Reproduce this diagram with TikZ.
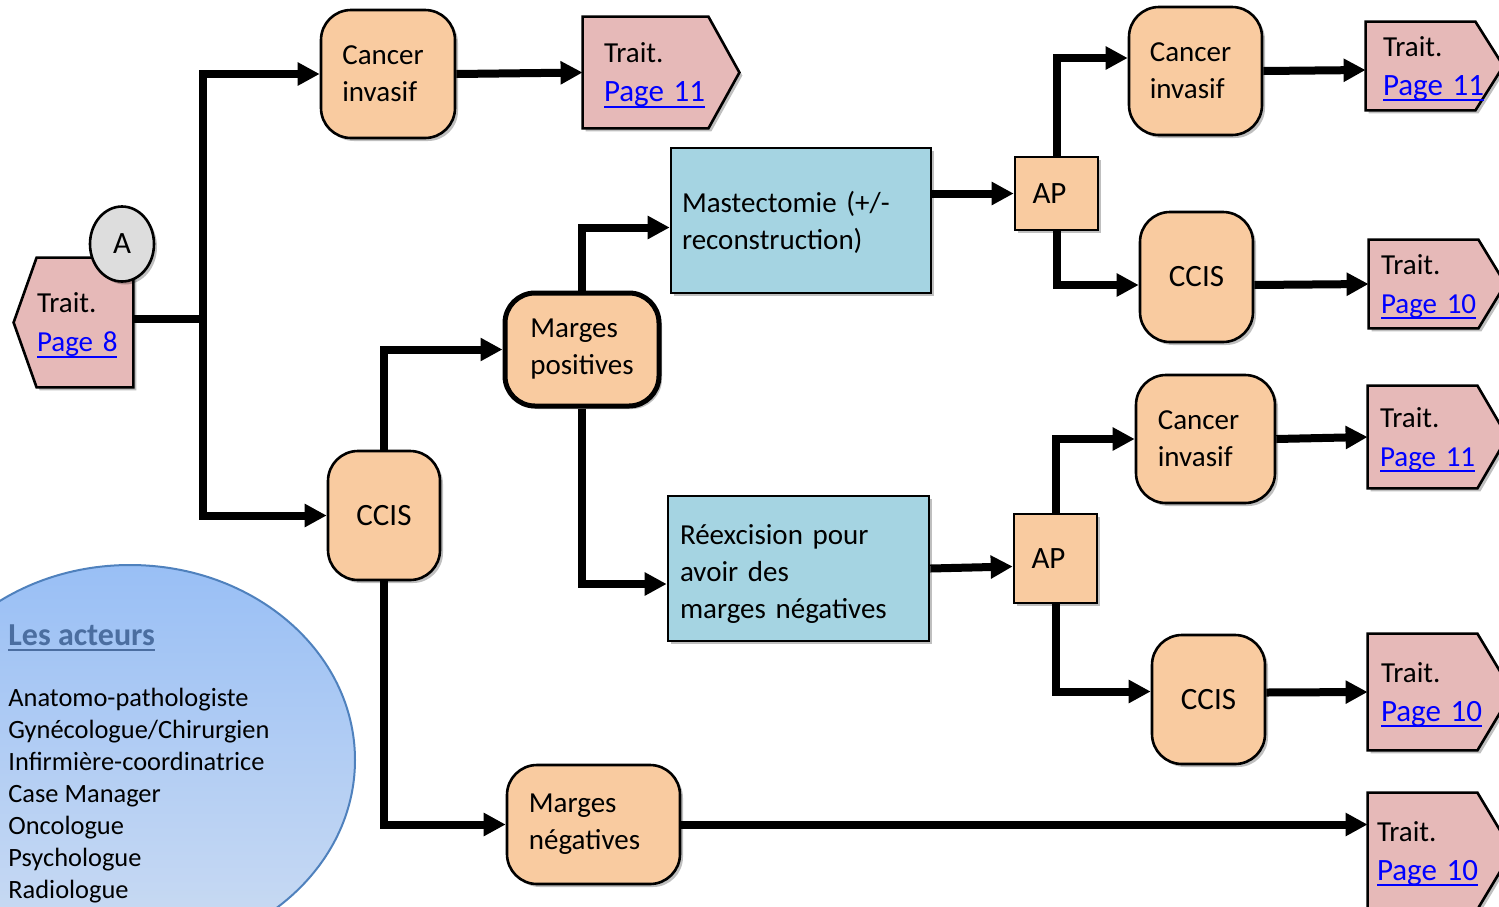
\documentclass[tikz,border=0pt]{standalone}
\usepackage{fontspec}
\setmainfont{Carlito}
\usetikzlibrary{arrows.meta,shapes.geometric,shadows,calc}
\pgfdeclarelayer{background}
\pgfsetlayers{background,main}

\definecolor{peach}{HTML}{F9CBA0}
\definecolor{rosebox}{HTML}{E6B9B8}
\definecolor{cyanbox}{HTML}{A5D4E2}
\definecolor{linkblue}{HTML}{0000FF}
\definecolor{legendedge}{HTML}{4F81BD}
\definecolor{legendtitle}{HTML}{4B6EA0}
\definecolor{legendtop}{HTML}{99BFF5}
\definecolor{legendbottom}{HTML}{CCDCF2}
\definecolor{circlegray}{HTML}{DDDDDD}

% underline drawn just below the baseline, through the descenders
\newsavebox\ulbox
\newcommand\ulinetext[1]{\leavevmode\sbox\ulbox{#1}\rlap{\rule[-3pt]{\wd\ulbox}{1pt}}\usebox\ulbox}
\newcommand\pagelink[1]{\smash{\textcolor{linkblue}{\ulinetext{#1}}}}
\newcommand\mainsize{\fontsize{14.5}{18.5}\selectfont}
\newcommand\bigsize{\fontsize{15.5}{18.5}\selectfont}
\newcommand\linksize{\fontsize{15.5}{19.5}\selectfont}
\newcommand\smalllink{\fontsize{14.5}{19.5}\selectfont}

\tikzset{
  softshadow/.style={drop shadow={shadow xshift=1.5pt, shadow yshift=-1.5pt, fill=black, opacity=0.25}},
  rbox/.style={draw=black, line width=1.3pt, fill=peach, rounded corners=15pt,
    inner sep=0pt, align=left, font=\mainsize, softshadow},
  sqbox/.style={draw=black, line width=1.3pt, fill=peach, inner sep=0pt,
    font=\bigsize, softshadow},
  cbox/.style={draw=black, line width=1.3pt, fill=cyanbox, inner sep=0pt,
    align=left, font=\mainsize, softshadow},
  trait/.style={inner sep=0pt, align=left, font=\fontsize{14.5}{19.5}\selectfont},
  traitshape/.style={draw=black, line width=1.3pt, fill=rosebox, line join=miter, softshadow},
  conn/.style={line width=4pt, -{Triangle[length=11pt,width=11pt]}},
}

\begin{document}
\begin{tikzpicture}[x=0.5pt,y=-0.5pt]
\useasboundingbox (0,0) rectangle (1499,906);
\clip (0,0) rectangle (1499,906);

% legend: the people involved
\draw[draw=legendedge, line width=1pt, top color=legendtop, bottom color=legendbottom]
  (130,760) ellipse [x radius=112.5pt, y radius=97.5pt];
\node[anchor=base west, inner sep=0pt, text=legendtitle,
      font=\bfseries\fontsize{16}{19}\selectfont] (legtitle) at (8,645) {\ulinetext{Les acteurs}};
\node[anchor=north west, inner sep=0pt, align=left, font=\fontsize{13.2}{16}\selectfont]
  (leglist) at (8,688) {Anatomo-pathologiste\\Gynécologue/Chirurgien\\Infirmière-coordinatrice\\Case Manager\\Oncologue\\Psychologue\\Radiologue};

% treatment references (outlines drawn on the background layer)
\node[trait, minimum width=59.5pt, minimum height=64.5pt, text width=36.5pt] (trA) at (73.5,322.5)
  {Trait.\\\mbox{\smalllink\pagelink{Page 8}}};
\node[trait, minimum width=78pt, minimum height=55.5pt, text width=57pt] (tr1) at (661,72.5)
  {Trait.\\{\linksize\pagelink{Page 11}}};
\node[trait, minimum width=68.5pt, minimum height=44pt, text width=51.5pt] (tr2) at (1434.5,66)
  {Trait.\\{\linksize\pagelink{Page 11}}};
\node[trait, minimum width=68pt, minimum height=44pt, text width=56pt] (tr3) at (1437,284)
  {Trait.\\{\smalllink\pagelink{Page 10}}};
\node[trait, minimum width=69.5pt, minimum height=51pt, text width=57.5pt] (tr4) at (1437.5,437)
  {Trait.\\{\smalllink\pagelink{Page 11}}};
\node[trait, minimum width=72pt, minimum height=58pt, text width=59pt] (tr5) at (1440,692)
  {Trait.\\{\linksize\pagelink{Page 10}}};
\node[trait, minimum width=72pt, minimum height=58pt, text width=63pt] (tr6) at (1440,851)
  {Trait.\\{\linksize\pagelink{Page 10}}};

\node[ellipse, draw=black, line width=1.3pt, fill=circlegray, minimum width=32pt,
      minimum height=37.5pt, inner sep=0pt, font=\bigsize, softshadow] (circA) at (122,244) {A};

% decision boxes
\node[rbox, minimum width=67pt, minimum height=64pt] (cancer1) at (388,74) {Cancer\hspace*{5pt}\\invasif};
\node[rbox, minimum width=56pt, minimum height=64.5pt, font=\bigsize] (ccis1) at (384,515.5) {CCIS};
\node[rbox, minimum width=77pt, minimum height=56.5pt, line width=2.5pt] (mpos) at (582,349.5) {Marges\\positives};
\node[rbox, minimum width=86.5pt, minimum height=59.5pt] (mneg) at (593.5,824.5) {Marges\\négatives\hspace*{9pt}};
\node[cbox, minimum width=130pt, minimum height=72.5pt, text width=119pt] (mast) at (801,220.5)
  {\rule{0pt}{13pt}Mastectomie (+/-\\reconstruction)};
\node[cbox, minimum width=130.5pt, minimum height=72.5pt, text width=118.5pt] (reex) at (798.5,568.5)
  {\rule{0pt}{15pt}Réexcision pour\\avoir des\\marges négatives};
\node[sqbox, minimum width=41.5pt, minimum height=36.5pt] (ap1) at (1056.5,193.5) {AP\hspace*{7pt}};
\node[sqbox, minimum width=41.5pt, minimum height=44.5pt] (ap2) at (1055.5,558.5) {AP\hspace*{7pt}};
\node[rbox, minimum width=66.5pt, minimum height=64pt] (cancer2) at (1195.5,71) {Cancer\hspace*{5pt}\\invasif};
\node[rbox, minimum width=56.5pt, minimum height=65pt, font=\bigsize] (ccis2) at (1196.5,277) {CCIS};
\node[rbox, minimum width=69.5pt, minimum height=64pt] (cancer3) at (1205.5,439) {Cancer\hspace*{7pt}\\invasif};
\node[rbox, minimum width=56.5pt, minimum height=64.5pt, font=\bigsize] (ccis3) at (1208.5,699.5) {CCIS};

\begin{pgfonlayer}{background}
  \foreach \n/\d in {tr1/15.5pt, tr2/14pt, tr3/13.5pt, tr4/15pt, tr5/17.5pt, tr6/17.5pt}
    \draw[traitshape] (\n.north west) -- ([xshift=-\d]\n.north east) -- (\n.east)
      -- ([xshift=-\d]\n.south east) -- (\n.south west) -- cycle;
  \draw[traitshape] ([xshift=11.5pt]trA.north west) -- (trA.north east) -- (trA.south east)
    -- ([xshift=11.5pt]trA.south west) -- (trA.west) -- cycle;
\end{pgfonlayer}

% connectors
\coordinate (jA) at ($(trA.east)+(70,-4)$);
\draw[conn] ([yshift=2pt]trA.east) -- (jA) |- (cancer1.west);
\draw[conn] (jA) |- (ccis1.west);
\draw[conn] (cancer1.east) -- (tr1.west);
\draw[conn] (ccis1.north) |- (mpos.west);
\draw[conn] (ccis1.south) |- (mneg.west);
\draw[conn] (mpos.north) |- ([yshift=-3.5pt]mast.west);
\draw[conn] (mpos.south) |- ([yshift=-7.75pt]reex.west);
\draw[conn] (mast.east |- ap1.west) -- (ap1.west);
\draw[conn] (ap1.north) |- ([yshift=6.5pt]cancer2.west);
\draw[conn] (ap1.south) |- ([yshift=-4pt]ccis2.west);
\draw[conn] (cancer2.east) -- ([yshift=-2pt]tr2.west);
\draw[conn] ([yshift=-4pt]ccis2.east) -- (tr3.west);
\draw[conn] (reex.east) -- ([yshift=-4pt]ap2.west);
\draw[conn] (ap2.north) |- (cancer3.west);
\draw[conn] (ap2.south) |- ([yshift=4pt]ccis3.west);
\draw[conn] (cancer3.east) -- (tr4.west);
\draw[conn] ([yshift=3.5pt]ccis3.east) -- (tr5.west);
\draw[conn] (mneg.east) -- (mneg.east -| tr6.west);
\end{tikzpicture}
\end{document}
